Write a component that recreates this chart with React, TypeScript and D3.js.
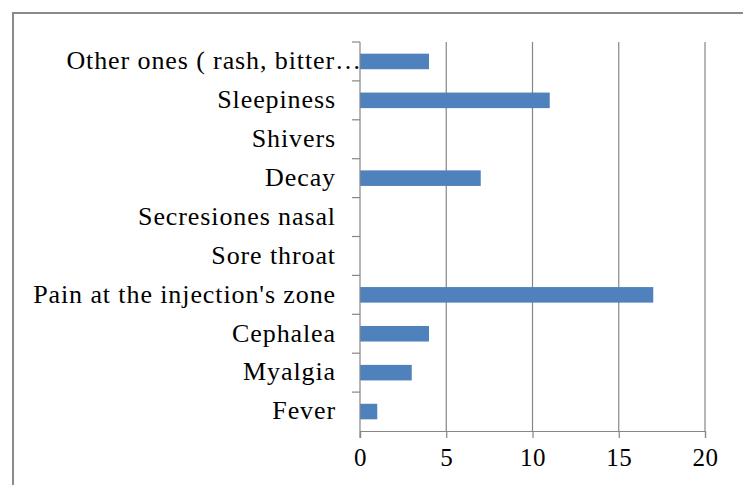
import { useEffect, useRef } from 'react';
import * as d3 from 'd3';

const categories = [
  'Fever',
  'Myalgia',
  'Cephalea',
  "Pain at the injection's zone",
  'Sore throat',
  'Secresiones nasal',
  'Decay',
  'Shivers',
  'Sleepiness',
  'Other ones ( rash, bitter…',
];
const counts = [1, 3, 4, 17, 0, 0, 7, 0, 11, 4];
const xTicks = [0, 5, 10, 15, 20];

const App = () => {
  const svgRef = useRef<SVGSVGElement>(null);
  const width = 743;
  const height = 485;
  const plot = { left: 360, right: 705, top: 42, bottom: 431 };

  useEffect(() => {
    const svg = d3.select(svgRef.current);
    svg.selectAll('*').remove();

    const font = 'Liberation Serif, DejaVu Serif, Times New Roman, serif';
    const grey = '#868686';

    // outer chart frame (runs off the right and bottom of the picture)
    svg.append('rect')
      .attr('x', 13)
      .attr('y', 13)
      .attr('width', width + 20)
      .attr('height', height + 20)
      .attr('fill', 'white')
      .attr('stroke', '#8a8a8a')
      .attr('stroke-width', 2);

    const xScale = d3.scaleLinear()
      .domain([0, 20])
      .range([plot.left, plot.right]);

    const yScale = d3.scaleBand()
      .domain(categories)
      .range([plot.bottom, plot.top])
      .paddingInner(0.6)
      .paddingOuter(0.3);

    const step = yScale.step();
    const bandTop = (c: string) => yScale(c)! - (step - yScale.bandwidth()) / 2;

    // vertical gridlines
    svg.append('g')
      .selectAll('line')
      .data(xTicks.slice(1))
      .join('line')
      .attr('x1', d => xScale(d))
      .attr('x2', d => xScale(d))
      .attr('y1', plot.top)
      .attr('y2', plot.bottom)
      .attr('stroke', grey)
      .attr('stroke-width', 1.2);

    // bars
    svg.append('g')
      .selectAll('rect')
      .data(counts)
      .join('rect')
      .attr('x', xScale(0))
      .attr('y', (d, i) => yScale(categories[i])!)
      .attr('width', d => xScale(d) - xScale(0))
      .attr('height', yScale.bandwidth())
      .attr('fill', '#4f81bd');

    // x axis
    const xAxis = d3.axisBottom(xScale).tickValues(xTicks).tickSize(7).tickPadding(10);
    const gx = svg.append('g')
      .attr('transform', `translate(0, ${plot.bottom})`)
      .call(xAxis);
    gx.select('.domain').attr('stroke', grey).attr('stroke-width', 1.2);
    gx.selectAll('.tick line').attr('stroke', grey).attr('stroke-width', 1.2);
    gx.selectAll('.tick text')
      .attr('fill', 'black')
      .attr('font-family', font)
      .attr('font-size', 25)
      .attr('letter-spacing', 0.6);

    // y axis line and category ticks
    svg.append('line')
      .attr('x1', plot.left)
      .attr('x2', plot.left)
      .attr('y1', plot.top)
      .attr('y2', plot.bottom + 7)
      .attr('stroke', grey)
      .attr('stroke-width', 1.2);

    svg.append('g')
      .selectAll('line')
      .data(categories)
      .join('line')
      .attr('x1', plot.left - 8)
      .attr('x2', plot.left)
      .attr('y1', d => bandTop(d))
      .attr('y2', d => bandTop(d))
      .attr('stroke', grey)
      .attr('stroke-width', 1.2);

    // truncated labels (ending with an ellipsis) run right up to the axis
    svg.append('g')
      .selectAll('text')
      .data(categories)
      .join('text')
      .attr('x', d => (d.endsWith('…') ? plot.left + 2 : plot.left - 24))
      .attr('y', d => yScale(d)! + yScale.bandwidth() / 2)
      .attr('dy', '0.3em')
      .attr('text-anchor', 'end')
      .attr('font-family', font)
      .attr('font-size', 26)
      .attr('letter-spacing', 0.9)
      .text(d => d);
  }, []);

  return (
    <div style={{ position: 'absolute', left: 0, top: 0 }}>
      <svg ref={svgRef} width={width} height={height} style={{ display: 'block', background: 'white' }}></svg>
    </div>
  );
};

export default App;
